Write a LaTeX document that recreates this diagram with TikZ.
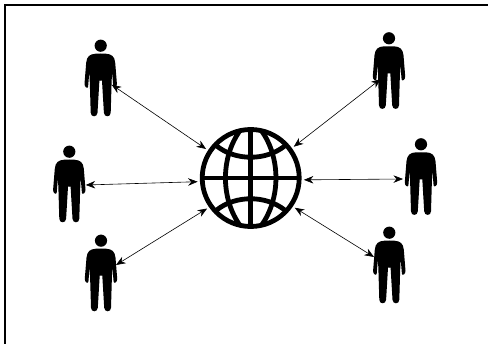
\documentclass[tikz,border=0pt]{standalone}
\usepackage{tikz}
\usetikzlibrary{arrows.meta}

\tikzset{
	headnode/.style={circle,fill=black,inner sep=0pt,minimum size=12.2pt},
	hubnode/.style={circle,inner sep=0pt,minimum size=106pt},
	frameline/.style={line width=1.3pt},
	globeline/.style={line width=4.8pt},
	link/.style={<->,>={Stealth[length=9.5pt,width=7.5pt]},line width=0.6pt},
	man/.pic={
		\foreach \s in {1,-1} {
			\fill[xscale=\s] (-0.1,8) -- (5,8) .. controls (11,8.5) and (13.8,10.5) .. (14.5,17)
				-- (16.2,38) .. controls (16.4,41.5) and (13,43.5) .. (12.6,41) -- (11.6,29) -- (11.2,29)
				-- (10.8,40) -- (10,67) .. controls (10,71.8) and (3.4,71.8) .. (3.2,67)
				-- (1.3,35) -- (-0.1,35) -- cycle;
		}
	}
}

\begin{document}
\begin{tikzpicture}[x=1pt,y=-1pt]
	\useasboundingbox (0,0) rectangle (488,344);

	%% Frame
	\coordinate (corner) at (5,5);
	\coordinate (top_end) at (488,5);
	\coordinate (left_end) at (5,344);
	\draw[frameline] (top_end) -- (corner) -- (left_end);

	%% Nodes
	\node (globe) at (250.7,178) [hubnode] {};
	\node (man_nw) at (100.7,45.7) [headnode] {};
	\node (man_w) at (69.3,151.7) [headnode] {};
	\node (man_sw) at (101,240.7) [headnode] {};
	\node (man_ne) at (389,38.3) [headnode] {};
	\node (man_e) at (421,144.3) [headnode] {};
	\node (man_se) at (389.3,232.7) [headnode] {};

	\foreach \name in {man_nw,man_w,man_sw,man_ne,man_e,man_se} {
		\pic at (\name) {man};
	}

	% Globe
	\begin{scope}[shift={(globe.center)}]
		\draw[globeline] (0,0) circle (48.5);
		\draw[globeline,line width=5.5pt] (0,-48) -- (0,48);
		\draw[globeline,line width=3.8pt] (-48,0) -- (48,0);
		\draw[globeline] (-11,-47) .. controls (-30,-20) and (-30,20) .. (-11,47);
		\draw[globeline] (11,-47) .. controls (30,-20) and (30,20) .. (11,47);
		\draw[globeline] (-34,-32) .. controls (-15,-17) and (15,-17) .. (34,-32);
		\draw[globeline] (-34,32) .. controls (-15,17) and (15,17) .. (34,32);
	\end{scope}

	%% Edges
	\draw[link] ([shift={(11,39)}]man_nw.center) -- (globe.147);
	\draw[link] ([shift={(16.4,33.3)}]man_w.center) -- (globe.184);
	\draw[link] ([shift={(15,24.3)}]man_sw.center) -- (globe.215);
	\draw[link] ([shift={(-8.3,40.7)}]man_ne.center) -- (globe.36);
	\draw[link] ([shift={(-18,34.7)}]man_e.center) -- (globe.-2);
	\draw[link] ([shift={(-15.3,24.3)}]man_se.center) -- (globe.-34);
\end{tikzpicture}
\end{document}
